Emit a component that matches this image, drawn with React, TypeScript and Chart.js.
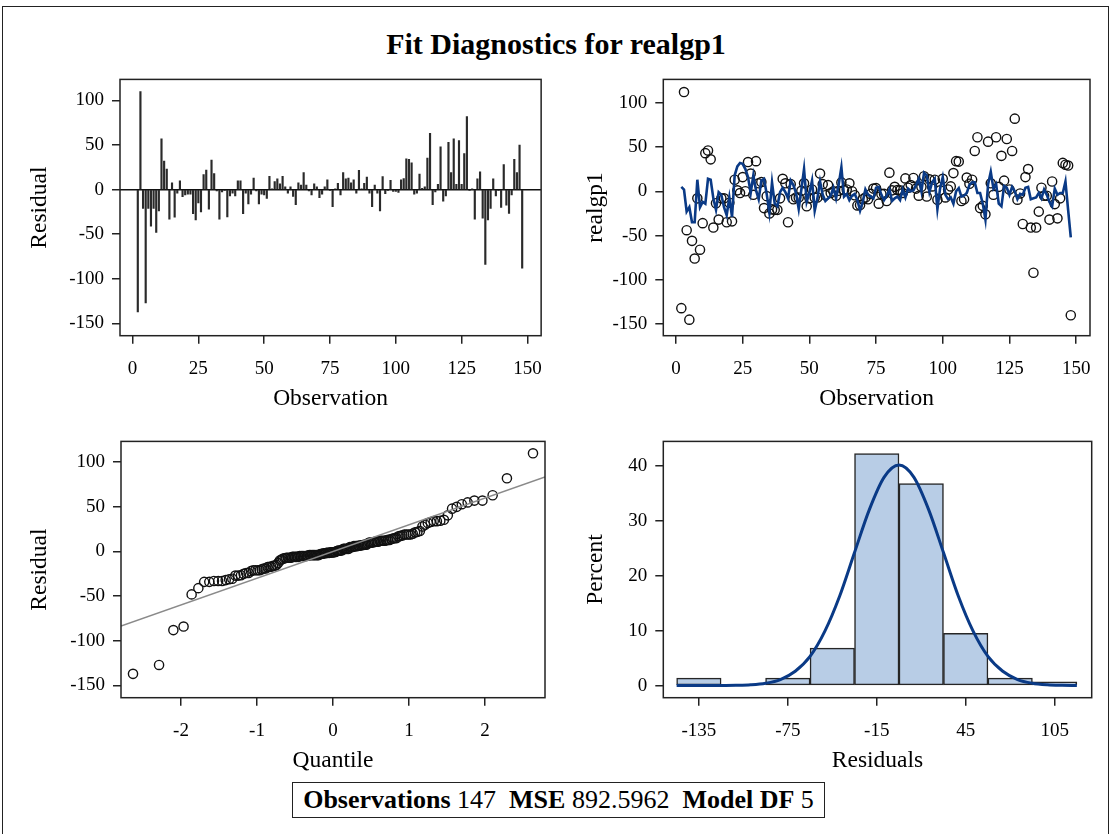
import React, { useEffect, useRef } from 'react';
import { Chart, registerables } from 'chart.js';
Chart.register(...registerables);

const FONT = "'Liberation Serif', 'Times New Roman', serif";

// ---------- data ----------
const observationNumbers = Array.from({ length: 147 }, (_, i) => i + 2);

const residuals = [
  -137, 110, -21, -127, -21, -41, -21, -48, -24, 57,
  32, 23, -33, 7.5, -31, -4, 10, -8, -6, -5,
  -5, -27, -34, -15, -25, 17, 22, -22, 33, 18,
  -1.5, -33, -2.5, -1, -30.5, -7, -4, -7, 10, 10,
  -27, -4, -16, -5, 13, -1.5, -16, -5, -6, -10,
  15, 1, 9, 12, 6.5, 15, 3, -4, 3, -7.5,
  -17, 7.5, 5, 19, 5, -1.5, -6, 6.5, 3, -9,
  -5, 3, 11, -0.5, -19, 1, 7, -6, 19, 12,
  13, 7.5, 11, -4, 21.5, 1, 7, 14, -4, -19,
  5, -4, -24, 14.5, -4.5, -1, 10.5, -2, -2, -3,
  11, 12.5, 34.5, 34, 30, -5, -4, 17.5, 1.5, 3,
  35.5, 63, -17, -2.5, 6, 48, -13, -7, 53, 19,
  57, 6, 55, 6, 40.5, 82, -0.5, 0.5, -33, 12,
  20, -32, -84, -34, -21, 12, -7, -1, -20, 28,
  -17.5, -26.6, -6, 34, 19, 50, -88,
];

const predicted = [
  5, 2, -23, -18, -35, -35, 13, -18, -12, -14,
  14, 13, -8, -21, -1, -4, -18, -27, -7, -29,
  18, 28, 32, 31, 25, 16, -2, 18, 1, -9,
  12, 14, -3, -24, 10, -14, -17, -1, 4, -1,
  -8, 12, 7, -2, -20, 2, 25, -12, -2, 12,
  -22, -8, 11, -4, -11, -8, -5, 4, -8, 8,
  27, -6, -3, -10, -5, -3, -10, -22, -12, 2,
  -4, -6, -8, 4, 5, -4, -10, -5, 2, -11,
  -8, -6, -10, 2, -7, 3, 0, 1, 7, 14,
  0, 21, 18, -1, 10, 14, -20, 3, 16, -4,
  -9, -7, -14, 0, 3.5, -6, -5, -2, 7, 10,
  10, -2, -2, -14, -32, 8, 22, 3, 8, -14,
  -17, 6, 4, -4, 5, 0, -9, -3, -4, 4,
  5, -9, -8, -7, -2, -8, 2, -4, -12, -17,
  3, -4, -2, -2, 11, -21, -52,
];

// histogram
const binCenters = [-135, -105, -75, -45, -15, 15, 45, 75, 105];
const binPercents = [1.36, null, 1.36, 6.8, 42.18, 36.73, 9.52, 1.36, 0.68];
const curveX = [-150, -140, -130, -120, -110, -100, -90, -80, -70, -60, -50, -40, -30, -20, -10, 0,
  10, 20, 30, 40, 50, 60, 70, 80, 90, 100, 110, 120];
const curveY = [0, 0, 0, 0.01, 0.05, 0.15, 0.43, 1.1, 2.6, 5.3, 9.9, 16.3, 24.2, 32.0, 37.9, 40.1,
  37.9, 32.0, 24.2, 16.3, 9.9, 5.3, 2.6, 1.1, 0.43, 0.15, 0.05, 0.01];

// QQ reference line
const qqLineX = [-2.79, 2.79];
const qqLineY = [-83.4, 83.4];

// tick labels
const obsTicks = [0, 25, 50, 75, 100, 125, 150];
const residTicks = [-150, -100, -50, 0, 50, 100];
const quantTicks = [-2, -1, 0, 1, 2];
const histTicks = [-135, -75, -15, 45, 105];
const pctTicks = [0, 10, 20, 30, 40];

const NAVY = '#0a3a86';

// inverse normal CDF (Acklam)
function normInv(p: number): number {
  const a = [-3.969683028665376e1, 2.209460984245205e2, -2.759285104469687e2, 1.38357751867269e2, -3.066479806614716e1, 2.506628277459239];
  const b = [-5.447609879822406e1, 1.615858368580409e2, -1.556989798598866e2, 6.680131188771972e1, -1.328068155288572e1];
  const c = [-7.784894002430293e-3, -3.223964580411365e-1, -2.400758277161838, -2.549732539343734, 4.374664141464968, 2.938163982698783];
  const d = [7.784695709041462e-3, 3.224671290700398e-1, 2.445134137142996, 3.754408661907416];
  const plow = 0.02425;
  if (p < plow) {
    const q = Math.sqrt(-2 * Math.log(p));
    return (((((c[0] * q + c[1]) * q + c[2]) * q + c[3]) * q + c[4]) * q + c[5]) / ((((d[0] * q + d[1]) * q + d[2]) * q + d[3]) * q + 1);
  }
  if (p > 1 - plow) {
    const q = Math.sqrt(-2 * Math.log(1 - p));
    return -(((((c[0] * q + c[1]) * q + c[2]) * q + c[3]) * q + c[4]) * q + c[5]) / ((((d[0] * q + d[1]) * q + d[2]) * q + d[3]) * q + 1);
  }
  const q = p - 0.5;
  const r = q * q;
  return (((((a[0] * r + a[1]) * r + a[2]) * r + a[3]) * r + a[4]) * r + a[5]) * q / (((((b[0] * r + b[1]) * r + b[2]) * r + b[3]) * r + b[4]) * r + 1);
}

// ---------- helpers ----------
const TICK_SIZE = 19;
const LABEL_SIZE = 23.5;

function xAxis(title: string, min: number, max: number, ticks: number[]) {
  return {
    type: 'linear',
    min, max, offset: false,
    afterBuildTicks: (s: any) => { s.ticks = ticks.map((v) => ({ value: v })); },
    afterFit: (s: any) => { s.height = 84.3; },
    grid: { display: true, drawOnChartArea: false, drawTicks: true, tickLength: 8, color: '#222', lineWidth: 1.5, offset: false },
    border: { display: false },
    ticks: { color: '#000', font: { family: FONT, size: TICK_SIZE }, padding: 14, maxRotation: 0, autoSkip: false },
    title: { display: true, text: title, color: '#000', font: { family: FONT, size: LABEL_SIZE }, padding: { top: 0, bottom: 7 } },
  };
}

function yAxis(title: string, min: number, max: number, ticks: number[], width: number) {
  return {
    type: 'linear',
    min, max,
    afterBuildTicks: (s: any) => { s.ticks = ticks.map((v) => ({ value: v })); },
    afterFit: (s: any) => { s.width = width; },
    grid: { display: true, drawOnChartArea: false, drawTicks: true, tickLength: 8, color: '#222', lineWidth: 1.5 },
    border: { display: false },
    ticks: { color: '#000', font: { family: FONT, size: TICK_SIZE }, padding: 8, autoSkip: false },
    title: { display: true, text: title, color: '#000', font: { family: FONT, size: LABEL_SIZE }, padding: { top: 26, bottom: 0 } },
  };
}

const framePlugin = {
  id: 'frame',
  afterDraw(chart: any) {
    const { ctx, chartArea: a } = chart;
    ctx.save();
    ctx.strokeStyle = '#222';
    ctx.lineWidth = 1.5;
    ctx.strokeRect(a.left, a.top, a.right - a.left, a.bottom - a.top);
    ctx.restore();
  },
};

const zeroLinePlugin = {
  id: 'zeroLine',
  beforeDatasetsDraw(chart: any) {
    const { ctx, chartArea: a, scales } = chart;
    const y = scales.y.getPixelForValue(0);
    ctx.save();
    ctx.strokeStyle = '#111';
    ctx.lineWidth = 1.5;
    ctx.beginPath();
    ctx.moveTo(a.left, y);
    ctx.lineTo(a.right, y);
    ctx.stroke();
    ctx.restore();
  },
};

function ChartBox(props: { left: number; top: number; width: number; height: number; make: () => any }) {
  const ref = useRef<HTMLCanvasElement>(null);
  useEffect(() => {
    const chart = new Chart(ref.current as HTMLCanvasElement, props.make());
    return () => chart.destroy();
  }, []);
  return (
    <canvas
      ref={ref}
      width={props.width}
      height={props.height}
      style={{ position: 'absolute', left: props.left, top: props.top, width: props.width, height: props.height }}
    />
  );
}

const baseOptions = (padding: any) => ({
  responsive: false,
  animation: false,
  events: [],
  layout: { padding },
  plugins: { legend: { display: false }, tooltip: { enabled: false }, title: { display: false } },
});

function makeNeedles() {
  return {
    type: 'bar',
    data: {
      datasets: [{
        data: observationNumbers.map((o, i) => ({ x: o, y: residuals[i] })),
        backgroundColor: '#2a2a2a',
        barThickness: 1.5,
        borderWidth: 0,
      }],
    },
    options: {
      ...baseOptions({ left: 0, top: 9, right: 9.3, bottom: 0 }),
      scales: {
        x: xAxis('Observation', -4.76, 155.2, obsTicks),
        y: yAxis('Residual', -163.8, 123.6, residTicks, 120),
      },
    },
    plugins: [zeroLinePlugin, framePlugin],
  };
}

function makeFit() {
  const observed = observationNumbers.map((o, i) => ({ x: o, y: predicted[i] + residuals[i] }));
  return {
    type: 'line',
    data: {
      datasets: [
        {
          data: observationNumbers.map((o, i) => ({ x: o, y: predicted[i] })),
          borderColor: NAVY,
          borderWidth: 2.6,
          pointRadius: 0,
          showLine: true,
          fill: false,
          tension: 0,
        },
        {
          data: observed,
          showLine: false,
          pointRadius: 4.6,
          pointBorderWidth: 1.4,
          pointBorderColor: '#111',
          pointBackgroundColor: 'rgba(0,0,0,0)',
        },
      ],
    },
    options: {
      ...baseOptions({ left: 0, top: 8.3, right: 22, bottom: 0 }),
      scales: {
        x: xAxis('Observation', -4.76, 155.2, obsTicks),
        y: yAxis('realgp1', -163.1, 126.3, residTicks, 107.3),
      },
    },
    plugins: [framePlugin],
  };
}

function makeQQ() {
  const n = residuals.length;
  const sorted = [...residuals].sort((a, b) => a - b);
  const pts = sorted.map((v, i) => ({ x: normInv((i + 1 - 0.375) / (n + 0.25)), y: v }));
  return {
    type: 'line',
    data: {
      datasets: [
        {
          data: qqLineX.map((x, i) => ({ x, y: qqLineY[i] })),
          borderColor: '#8a8a8a',
          borderWidth: 1.5,
          pointRadius: 0,
          showLine: true,
        },
        {
          data: pts,
          showLine: false,
          pointRadius: 4.6,
          pointBorderWidth: 1.4,
          pointBorderColor: '#111',
          pointBackgroundColor: 'rgba(0,0,0,0)',
        },
      ],
    },
    options: {
      ...baseOptions({ left: 0, top: 9, right: 11, bottom: 0 }),
      scales: {
        x: xAxis('Quantile', -2.79, 2.79, quantTicks),
        y: yAxis('Residual', -163.7, 123.3, residTicks, 121),
      },
    },
    plugins: [framePlugin],
  };
}

function makeHist() {
  return {
    type: 'bar',
    data: {
      datasets: [
        {
          type: 'line',
          data: curveX.map((x, i) => ({ x, y: curveY[i] })),
          borderColor: NAVY,
          borderWidth: 3,
          pointRadius: 0,
          cubicInterpolationMode: 'monotone',
        },
        {
          type: 'bar',
          data: binCenters.map((x, i) => ({ x, y: binPercents[i] })),
          backgroundColor: '#b8cde6',
          borderColor: '#262626',
          borderWidth: 1.5,
          borderSkipped: false,
          barPercentage: 1,
          categoryPercentage: 1,
        },
      ],
    },
    options: {
      ...baseOptions({ left: 0, top: 9.7, right: 20.3, bottom: 0 }),
      scales: {
        x: xAxis('Residuals', -159, 130, histTicks),
        y: yAxis('Percent', -2.2, 44.4, pctTicks, 107.3),
      },
    },
    plugins: [framePlugin],
  };
}

export default function App() {
  return (
    <div style={{ position: 'absolute', left: 0, top: 0, width: 1112, height: 834, background: '#fff', overflow: 'hidden', fontFamily: FONT, color: '#000' }}>
      <div style={{ position: 'absolute', left: 2, top: 6, width: 1105, height: 900, border: '1.5px solid #222' }} />
      <div style={{ position: 'absolute', left: 0, top: 27, width: 1112, textAlign: 'center', fontWeight: 'bold', fontSize: 30, lineHeight: '34px' }}>
        Fit Diagnostics for realgp1
      </div>
      <ChartBox left={0} top={60} width={556} height={360} make={makeNeedles} />
      <ChartBox left={556} top={60} width={556} height={360} make={makeFit} />
      <ChartBox left={0} top={422} width={556} height={360} make={makeQQ} />
      <ChartBox left={556} top={422} width={556} height={360} make={makeHist} />
      <div style={{ position: 'absolute', left: 292, top: 782, width: 531, height: 34, border: '1.5px solid #222', display: 'flex', alignItems: 'center', justifyContent: 'center', fontSize: 26, whiteSpace: 'pre' }}>
        <b>Observations</b>{' 147  '}<b>MSE</b>{' 892.5962  '}<b>Model DF</b>{' 5'}
      </div>
    </div>
  );
}
